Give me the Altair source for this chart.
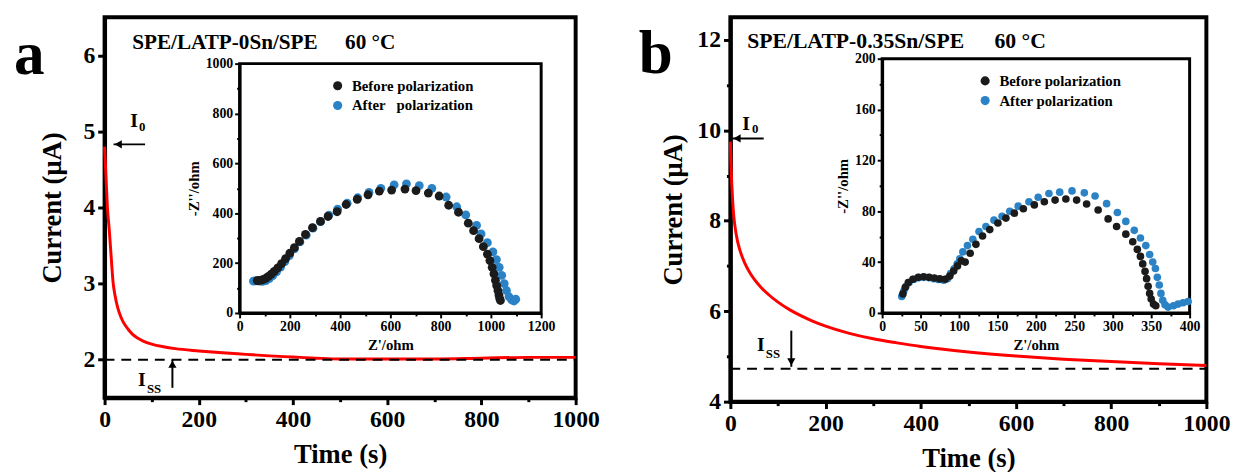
import altair as alt
import pandas as pd

FONT = "Liberation Serif"

# ---------------- main curves ----------------
TIME_A = [0, 3, 6, 10, 14, 18, 22, 28, 34, 40, 50, 60, 70, 82, 100, 125, 150, 200, 250, 300,
          350, 400, 450, 500, 600, 700, 800, 900, 1000]
CURRENT_A = [4.80, 4.40, 4.00, 3.70, 3.35, 3.02, 2.85, 2.68, 2.57, 2.49, 2.40, 2.33, 2.285, 2.245,
             2.205, 2.17, 2.145, 2.115, 2.09, 2.07, 2.05, 2.035, 2.02, 2.01, 2.01, 2.01, 2.02, 2.03, 2.03]
TIME_B = [0, 1, 2, 3, 5, 7, 10, 15, 20, 30, 40, 50, 65, 80, 100, 125, 150, 175, 200, 250, 300,
          350, 400, 500, 600, 700, 800, 900, 1000]
CURRENT_B = [9.75, 9.35, 9.05, 8.80, 8.40, 8.12, 7.85, 7.55, 7.35, 7.07, 6.87, 6.71, 6.52, 6.37,
             6.20, 6.03, 5.89, 5.77, 5.67, 5.51, 5.39, 5.30, 5.22, 5.10, 5.01, 4.94, 4.89, 4.84, 4.80]
ISS_A = 2.0
ISS_B = 4.73

# ---------------- inset (Nyquist) data ----------------
ZRE_BEFORE_A = [70, 78, 86, 95, 105, 115, 126, 138, 152, 167, 183, 200, 218, 238, 262, 290, 322, 352,
                388, 424, 468, 511, 556, 605, 658, 702, 751, 794, 832, 871, 910, 931, 953, 970, 986,
                996, 1005, 1012, 1018, 1023, 1028, 1032, 1035, 1038]
ZIM_BEFORE_A = [130, 131, 132, 135, 140, 147, 156, 167, 181, 198, 218, 240, 262, 287, 315, 342, 367, 387,
                406, 435, 456, 474, 489, 493, 497, 491, 481, 469, 432, 404, 360, 330, 298, 266, 236,
                210, 183, 157, 131, 110, 90, 72, 58, 50]
ZRE_AFTER_A = [55, 62, 70, 80, 92, 105, 118, 132, 147, 163, 180, 198, 218, 240, 265, 292, 322, 355, 390,
               428, 470, 515, 562, 615, 664, 715, 765, 822, 864, 900, 943, 961, 986, 1008, 1022, 1033,
               1043, 1053, 1062, 1072, 1083, 1092, 1099]
ZIM_AFTER_A = [128, 129, 129, 128, 127, 130, 138, 150, 165, 184, 206, 230, 257, 285, 312, 340, 366, 392,
               416, 440, 462, 484, 500, 514, 518, 511, 500, 465, 426, 393, 351, 317, 282, 245, 214, 183,
               151, 118, 90, 65, 52, 48, 55]

ZRE_BEFORE_B = [27, 30, 34, 40, 47, 54, 61, 68, 75, 82, 88, 93, 98, 103, 108, 114.5, 122, 130.6, 140,
                150.6, 161, 172, 183.7, 198, 211, 225, 239, 253, 266, 281, 294, 305, 317, 326, 332,
                336, 339, 342, 344, 346, 348, 350, 353, 356]
ZIM_BEFORE_B = [15, 20, 24, 26.5, 28, 28.5, 28, 27.5, 26.8, 26.5, 29, 33, 37, 41, 40, 47, 54, 60.5, 65.6,
                70.8, 74.6, 78.5, 82, 85, 87.5, 88.8, 89.6, 88.8, 85.7, 81, 74, 68, 62, 56, 50, 44.5,
                38.6, 32.7, 27, 21, 15.4, 11, 7, 5.7]
ZRE_AFTER_B = [25.5, 28, 31, 35, 41.6, 48, 54, 60.7, 67, 73, 80, 85, 89, 93.6, 97.6, 101, 105, 111, 118,
               126, 135, 145.5, 156, 166, 177, 191, 203, 217, 231, 247, 263, 277, 292, 306, 317, 328,
               336, 343, 348, 352, 355.5, 358, 360.5, 362.7, 365, 368, 372, 379, 385, 391.5, 398]
ZIM_AFTER_B = [13, 17, 21, 24, 26.5, 27.8, 28, 27.8, 27, 26.3, 25.7, 27, 31, 34.7, 38.6, 42.5, 48, 53, 58,
               64, 68, 73, 76, 80, 84, 87.5, 91, 94, 95, 96, 94.5, 92, 86, 79, 72, 65, 59, 53, 46, 40,
               35, 28, 22, 15.4, 10, 6.4, 4.6, 5.7, 7, 8, 9]

SERIES_A = ["Before polarization", "After\u00a0\u00a0\u00a0polarization"]
SERIES_B = ["Before polarization", "After polarization"]
SERIES_COLORS = ["#1b1b1b", "#2b83c6"]

# ---------------- tick values (all ticks / labelled ticks) ----------------
TIME_TICKS = [0, 100, 200, 300, 400, 500, 600, 700, 800, 900, 1000]
TIME_LABELS = [0, 200, 400, 600, 800, 1000]
CUR_TICKS_A = [2, 2.5, 3, 3.5, 4, 4.5, 5, 5.5, 6]
CUR_LABELS_A = [2, 3, 4, 5, 6]
CUR_TICKS_B = [4, 5, 6, 7, 8, 9, 10, 11, 12]
CUR_LABELS_B = [4, 6, 8, 10, 12]
ZRE_TICKS_A = [0, 100, 200, 300, 400, 500, 600, 700, 800, 900, 1000, 1100, 1200]
ZRE_LABELS_A = [0, 200, 400, 600, 800, 1000, 1200]
ZIM_TICKS_A = [0, 100, 200, 300, 400, 500, 600, 700, 800, 900, 1000]
ZIM_LABELS_A = [0, 200, 400, 600, 800, 1000]
ZRE_TICKS_B = [0, 25, 50, 75, 100, 125, 150, 175, 200, 225, 250, 275, 300, 325, 350, 375, 400]
ZRE_LABELS_B = [0, 50, 100, 150, 200, 250, 300, 350, 400]
ZIM_TICKS_B = [0, 20, 40, 60, 80, 100, 120, 140, 160, 180, 200]
ZIM_LABELS_B = [0, 40, 80, 120, 160, 200]


def text_mark(txt, x, y, size, align="left"):
    return alt.Chart(pd.DataFrame({"k": [0]})).mark_text(
        text=txt, font=FONT, fontWeight="bold", fontSize=size, color="black",
        align=align, baseline="alphabetic"
    ).encode(x=alt.value(x), y=alt.value(y))


def is_major(labels):
    return "indexof([" + ",".join(str(v) for v in labels) + "], datum.value) >= 0"


def main_axis(values, labels, title, title_pad):
    test = is_major(labels)
    return alt.Axis(
        values=values, format="d", title=title,
        labelExpr=f"{test} ? datum.label : ''",
        tickSize={"condition": {"test": test, "value": 7}, "value": 4},
        tickWidth=3, domainWidth=4, labelFontSize=24, titleFontSize=27,
        labelPadding=3, titlePadding=title_pad, labelFlush=False, labelOverlap=False, grid=False,
    )


def inset_axis(values, labels, title, orient, offset, title_pad):
    test = is_major(labels)
    return alt.Axis(
        values=values, format="d", title=title, orient=orient, offset=offset,
        labelExpr=f"{test} ? datum.label : ''",
        tickSize={"condition": {"test": test, "value": 5}, "value": 3},
        tickWidth=2, domainWidth=3, labelFontSize=14, titleFontSize=15,
        labelPadding=2, titlePadding=title_pad, labelFlush=False, labelOverlap=False, grid=False,
    )


def panel(cfg):
    W, H = cfg["W"], cfg["H"]
    xs = alt.Scale(domain=[0, 1000], nice=False, zero=False)
    ys = alt.Scale(domain=cfg["ydom"], nice=False, zero=False)
    xa = main_axis(TIME_TICKS, TIME_LABELS, "Time (s)", 11)
    ya = main_axis(cfg["yticks"], cfg["ylabels"], "Current (\u03bcA)", cfg["ytitle_pad"])

    curve = alt.Chart(pd.DataFrame({"t": cfg["time"], "i": cfg["cur"]})).mark_line(
        color="#ff0000", strokeWidth=3, interpolate="monotone"
    ).encode(x=alt.X("t:Q", scale=xs, axis=xa), y=alt.Y("i:Q", scale=ys, axis=ya))

    dashed = alt.Chart(pd.DataFrame({"x0": [0], "x1": [1000], "y": [cfg["iss"]]})).mark_rule(
        color="black", strokeWidth=2, strokeDash=[10, 7]
    ).encode(x=alt.X("x0:Q", scale=xs, axis=xa), x2="x1", y=alt.Y("y:Q", scale=ys, axis=ya))

    a0 = cfg["arrow0"]  # horizontal arrow: (x_tip, x_tail, y, x_head)
    arr0 = alt.Chart(pd.DataFrame({"x0": [a0[0]], "x1": [a0[1]], "y": [a0[2]]})).mark_rule(
        color="black", strokeWidth=2
    ).encode(x=alt.X("x0:Q", scale=xs, axis=xa), x2="x1", y=alt.Y("y:Q", scale=ys, axis=ya))
    head0 = alt.Chart(pd.DataFrame({"x": [a0[3]], "y": [a0[2]]})).mark_point(
        shape="triangle-left", filled=True, color="black", size=70, opacity=1
    ).encode(x=alt.X("x:Q", scale=xs, axis=xa), y=alt.Y("y:Q", scale=ys, axis=ya))

    a1 = cfg["arrow1"]  # vertical arrow: (x, y_tip, y_tail, y_head, shape)
    arr1 = alt.Chart(pd.DataFrame({"x": [a1[0]], "y0": [a1[1]], "y1": [a1[2]]})).mark_rule(
        color="black", strokeWidth=2
    ).encode(x=alt.X("x:Q", scale=xs, axis=xa), y=alt.Y("y0:Q", scale=ys, axis=ya), y2="y1")
    head1 = alt.Chart(pd.DataFrame({"x": [a1[0]], "y": [a1[3]]})).mark_point(
        shape=a1[4], filled=True, color="black", size=70, opacity=1
    ).encode(x=alt.X("x:Q", scale=xs, axis=xa), y=alt.Y("y:Q", scale=ys, axis=ya))

    texts = [text_mark(t, x, y, s) for (t, x, y, s) in cfg["texts"]]
    main_layer = alt.layer(curve, dashed, arr0, head0, arr1, head1, *texts)

    # ---- inset ----
    ixs = alt.Scale(domain=cfg["idx"], range=cfg["irx"], nice=False, zero=False)
    iys = alt.Scale(domain=cfg["idy"], range=cfg["iry"], nice=False, zero=False)
    ixa = inset_axis(cfg["ixticks"], cfg["ixlabels"], "Z'/ohm", "bottom", -(H - cfg["iry"][0]), 4)
    iya = inset_axis(cfg["iyticks"], cfg["iylabels"], "-Z''/ohm", "left", -cfg["irx"][0], 4)

    names = cfg["series"]
    df = pd.concat([
        pd.DataFrame({"zr": cfg["after"][0], "zi": cfg["after"][1], "s": names[1], "o": 0}),
        pd.DataFrame({"zr": cfg["before"][0], "zi": cfg["before"][1], "s": names[0], "o": 1}),
    ])
    pts = alt.Chart(df).mark_circle(size=cfg["msize"], opacity=1).encode(
        x=alt.X("zr:Q", scale=ixs, axis=ixa),
        y=alt.Y("zi:Q", scale=iys, axis=iya),
        color=alt.Color("s:N", scale=alt.Scale(domain=names, range=SERIES_COLORS),
                        legend=alt.Legend(orient="none", legendX=cfg["leg"][0], legendY=cfg["leg"][1],
                                          title=None, labelFont=FONT, labelFontSize=15,
                                          labelFontWeight="bold", labelColor="black",
                                          symbolType="circle", symbolSize=85, symbolStrokeWidth=0,
                                          symbolOpacity=1, labelOffset=7, rowPadding=4, padding=0)),
        order=alt.Order("o:Q"),
    )
    frame = alt.Chart(pd.DataFrame({"x0": [cfg["idx"][0]], "x1": [cfg["idx"][1]],
                                    "y0": [cfg["idy"][0]], "y1": [cfg["idy"][1]]})).mark_rect(
        fillOpacity=0, stroke="black", strokeWidth=3
    ).encode(x=alt.X("x0:Q", scale=ixs, axis=ixa), x2="x1", y=alt.Y("y0:Q", scale=iys, axis=iya), y2="y1")
    inset_layer = alt.layer(frame, pts)

    return alt.layer(main_layer, inset_layer).resolve_scale(
        x="independent", y="independent"
    ).properties(width=W, height=H)


cfg_a = dict(
    W=478, H=386, ydom=[1.5, 6.5], yticks=CUR_TICKS_A, ylabels=CUR_LABELS_A, ytitle_pad=17,
    time=TIME_A, cur=CURRENT_A, iss=ISS_A,
    arrow0=(19, 86, 4.83, 29), arrow1=(144, 2.0, 1.63, 1.94, "triangle-up"),
    texts=[("a", -92, 58, 62), ("SPE/LATP-0Sn/SPE", 28, 32, 21.5), ("60 \u00b0C", 244, 32, 21.5),
           ("I", 26, 111, 20), ("0", 35, 115, 13), ("I", 34, 374, 20), ("SS", 43, 381, 13)],
    idx=[0, 1200], idy=[0, 1000], irx=[137, 443], iry=[300, 47],
    ixticks=ZRE_TICKS_A, ixlabels=ZRE_LABELS_A, iyticks=ZIM_TICKS_A, iylabels=ZIM_LABELS_A,
    series=SERIES_A, before=(ZRE_BEFORE_A, ZIM_BEFORE_A), after=(ZRE_AFTER_A, ZIM_AFTER_A),
    msize=80, leg=(229, 62),
)
cfg_b = dict(
    W=483, H=390, ydom=[4, 12.5], yticks=CUR_TICKS_B, ylabels=CUR_LABELS_B, ytitle_pad=10,
    time=TIME_B, cur=CURRENT_B, iss=ISS_B,
    arrow0=(4, 70, 9.82, 14), arrow1=(128, 4.77, 5.57, 4.88, "triangle-down"),
    texts=[("b", -93, 56, 62), ("SPE/LATP-0.35Sn/SPE", 17, 31, 22), ("60 \u00b0C", 268, 31, 22),
           ("I", 12, 114, 20), ("0", 22, 117, 13), ("I", 27, 339, 20), ("SS", 36, 346, 13)],
    idx=[0, 400], idy=[0, 200], irx=[154, 466], iry=[300, 42],
    ixticks=ZRE_TICKS_B, ixlabels=ZRE_LABELS_B, iyticks=ZIM_TICKS_B, iylabels=ZIM_LABELS_B,
    series=SERIES_B, before=(ZRE_BEFORE_B, ZIM_BEFORE_B), after=(ZRE_AFTER_B, ZIM_AFTER_B),
    msize=60, leg=(251, 57),
)

chart = alt.hconcat(panel(cfg_a), panel(cfg_b), spacing=36).resolve_scale(
    color="independent"
).properties(
    padding={"left": 4, "top": 4, "right": 0, "bottom": 0}
).configure_view(
    stroke="black", strokeWidth=4
).configure_axis(
    labelFont=FONT, titleFont=FONT, labelFontWeight="bold", titleFontWeight="bold",
    labelColor="black", titleColor="black", domainColor="black", tickColor="black", grid=False,
)

chart.save("out.html", embed_options={"renderer": "svg", "actions": False})
